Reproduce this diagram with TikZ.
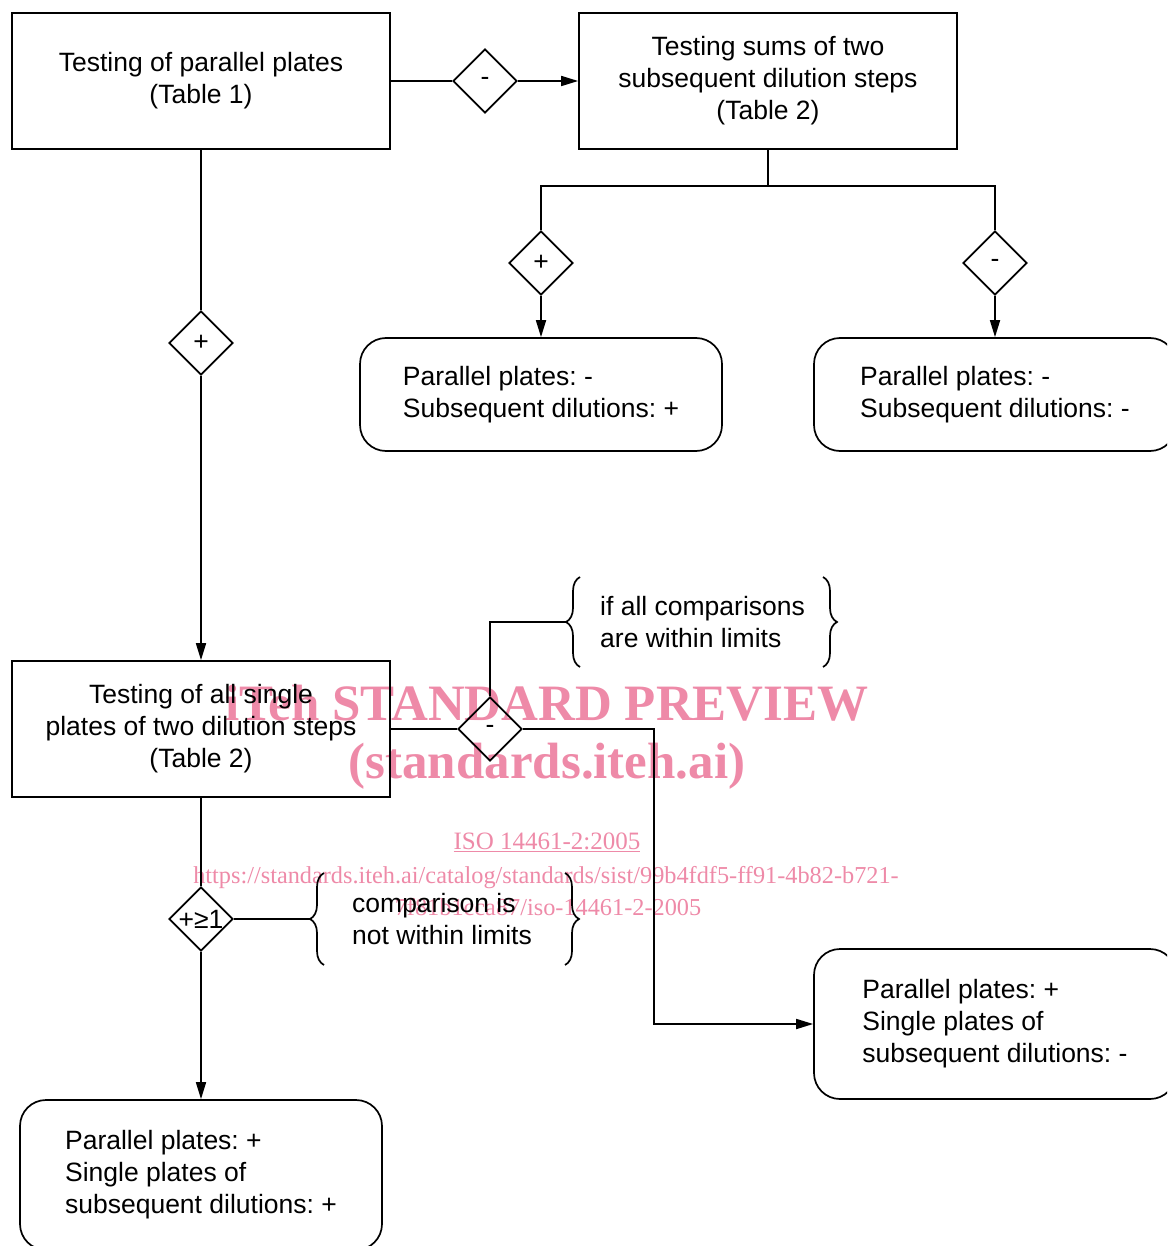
\documentclass[tikz,border=0pt]{standalone}
\usepackage{fontspec}
\setmainfont{Liberation Sans}
\newfontfamily\wmfont{Liberation Serif}
\usetikzlibrary{shapes.geometric,arrows.meta,decorations.pathreplacing}
\definecolor{wm}{RGB}{238,138,168}
\frenchspacing
\begin{document}
\begin{tikzpicture}[x=1pt,y=-1pt,
  every node/.style={font=\fontsize{26.5pt}{32pt}\selectfont, inner sep=0pt},
  box/.style={draw, line width=1.7pt, minimum width=378pt, minimum height=136pt, align=center},
  rbox/.style={draw, line width=1.7pt, rounded corners=26pt, minimum width=362pt, align=left},
  dia/.style={draw, diamond, line width=1.7pt, minimum width=64pt, minimum height=64pt, aspect=1},
  ln/.style={line width=1.7pt},
  arr/.style={line width=1.7pt, -{Triangle[length=17pt,width=10pt]}},
  brc/.style={line width=1.7pt, decorate, decoration={brace, amplitude=14pt}},
  wmbig/.style={text=wm, font=\wmfont\bfseries\fontsize{51pt}{51pt}\selectfont, anchor=base},
  wmsmall/.style={text=wm, font=\wmfont\fontsize{25pt}{25pt}\selectfont, anchor=base}
]
\useasboundingbox (0,0) rectangle (1167,1246);
\clip (0,0) rectangle (1167,1246);

% watermark
\node[wmbig] (w1) at (547,720) {iTeh STANDARD PREVIEW};
\node[wmbig] (w2) at (547,778) {(standards.iteh.ai)};
\node[wmsmall] (w3) at (547,849) {\underline{ISO 14461-2:2005}};
\node[wmsmall, font=\wmfont\fontsize{24.3pt}{25pt}\selectfont] (w4) at (546,883) {https://standards.iteh.ai/catalog/standards/sist/99b4fdf5-ff91-4b82-b721-};
\node[wmsmall, font=\wmfont\fontsize{24.3pt}{25pt}\selectfont] (w5) at (548,915) {7f81b1cca87/iso-14461-2-2005};

% nodes
\node[box] (A) at (201,81) {Testing of parallel plates\\(Table 1)};
\node[dia] (d1) at (485,81) {-};
\node[box] (B) at (768,81) {Testing sums of two\\subsequent dilution steps\\(Table 2)};
\coordinate (jB) at (768,186);
\node[dia] (dC) at (541,263) {+};
\node[dia] (dD) at (995,263) {-};
\node[rbox, minimum height=113pt] (C) at (541,394.5) {Parallel plates: -\\Subsequent dilutions: +};
\node[rbox, minimum height=113pt] (D) at (995,394.5) {Parallel plates: -\\Subsequent dilutions: -};
\node[dia] (d3) at (201,343) {+};
\node[box] (E) at (201,729) {Testing of all single\\plates of two dilution steps\\(Table 2)};
\node[dia] (d4) at (490,729) {-};
\node[dia] (d5) at (201,919) {+≥1};
\node[rbox, minimum height=150pt] (F) at (995,1024) {Parallel plates: +\\Single plates of\\subsequent dilutions: -};
\node[rbox, minimum height=150pt] (G) at (201,1175) {Parallel plates: +\\Single plates of\\subsequent dilutions: +};

\node[anchor=west, align=left] (t1) at (600,622) {if all comparisons\\are within limits};
\node[anchor=west, align=left] (t2) at (352,919) {comparison is\\not within limits};

% braces
\draw[brc] (580,667) -- (580,577);
\draw[brc] (823,577) -- (823,667);
\coordinate (tip1) at (566,622);
\draw[brc] (324,965) -- (324,873);
\draw[brc] (565,873) -- (565,965);
\coordinate (tip2) at (310,919);

% connectors
\draw[ln] (A.east) -- (d1.west);
\draw[arr] (d1.east) -- (B.west);
\draw[ln] (B.south) -- (jB);
\draw[ln] (jB) -| (dC.north);
\draw[ln] (jB) -| (dD.north);
\draw[arr] (dC.south) -- (C.north);
\draw[arr] (dD.south) -- (D.north);
\draw[ln] (A.south) -- (d3.north);
\draw[arr] (d3.south) -- (E.north);
\draw[ln] (E.east) -- (d4.west);
\draw[ln] (d4.north) |- (tip1);
\coordinate (k) at (654,1024);
\draw[arr] (d4.east) -| (k) -- (F.west);
\draw[ln] (E.south) -- (d5.north);
\draw[ln] (d5.east) -- (tip2);
\draw[arr] (d5.south) -- (G.north);
\end{tikzpicture}
\end{document}
